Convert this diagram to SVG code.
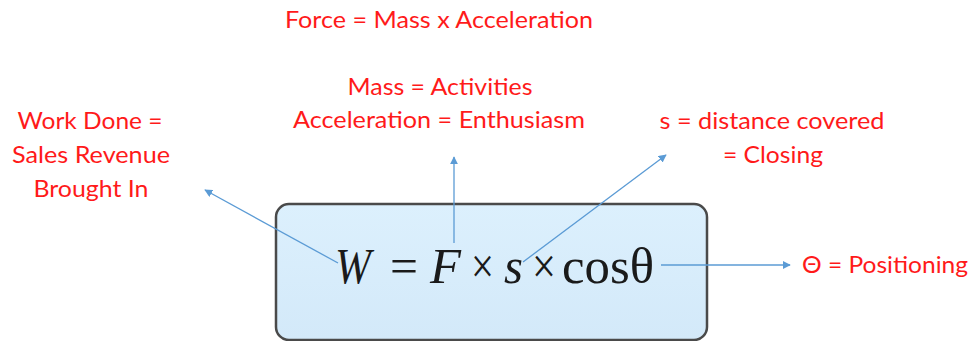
<svg xmlns="http://www.w3.org/2000/svg" width="972" height="341" viewBox="0 0 972 341">
<style>
.lbl{font-family:Lato,"Open Sans","Liberation Sans",sans-serif;font-size:24px;fill:#ff1a1a;text-anchor:middle}
.eq{font-family:"Liberation Serif","DejaVu Serif",serif;font-size:50px;fill:#1a1a1a}
.it{font-style:italic}
.conn{stroke:#5b9bd5;stroke-width:1.3;fill:none;marker-end:url(#ah)}
</style>
<defs>
<marker id="ah" viewBox="0 0 10 10" refX="9" refY="5" markerWidth="8" markerHeight="8" markerUnits="userSpaceOnUse" orient="auto">
<path d="M0,0 L10,5 L0,10 z" fill="#5b9bd5"/>
</marker>
<linearGradient id="bg" x1="0" y1="0" x2="0" y2="1">
<stop offset="0" stop-color="#dcf0fd"/>
<stop offset="1" stop-color="#d3e9f9"/>
</linearGradient>
</defs>
<rect width="972" height="341" fill="#ffffff"/>
<g id="formula">
<rect x="276" y="204" width="431" height="136" rx="13" ry="13" fill="url(#bg)" stroke="#4a4a4a" stroke-width="2.5"/>
<text class="eq it" x="335" y="283" textLength="36" lengthAdjust="spacingAndGlyphs">W</text>
<text class="eq" x="390" y="283" textLength="28" lengthAdjust="spacingAndGlyphs">=</text>
<text class="eq it" x="430" y="283" textLength="31" lengthAdjust="spacingAndGlyphs">F</text>
<text class="eq" x="471" y="283" textLength="23" lengthAdjust="spacingAndGlyphs">×</text>
<text class="eq it" x="504" y="283" textLength="19" lengthAdjust="spacingAndGlyphs">s</text>
<text class="eq" x="532" y="283" textLength="24" lengthAdjust="spacingAndGlyphs">×</text>
<text class="eq" x="562" y="283" textLength="92" lengthAdjust="spacingAndGlyphs">cosθ</text>
</g>
<g id="force">
<text class="lbl" x="439" y="28" textLength="308" lengthAdjust="spacingAndGlyphs">Force = Mass x Acceleration</text>
</g>
<g id="mass">
<text class="lbl" x="440" y="95" textLength="185" lengthAdjust="spacingAndGlyphs">Mass = Activities</text>
<text class="lbl" x="439" y="128" textLength="292" lengthAdjust="spacingAndGlyphs">Acceleration = Enthusiasm</text>
</g>
<g id="work">
<text class="lbl" x="90" y="129" textLength="145" lengthAdjust="spacingAndGlyphs">Work Done =</text>
<text class="lbl" x="91" y="163" textLength="158" lengthAdjust="spacingAndGlyphs">Sales Revenue</text>
<text class="lbl" x="91" y="197" textLength="115" lengthAdjust="spacingAndGlyphs">Brought In</text>
</g>
<g id="distance">
<text class="lbl" x="772" y="129" textLength="225" lengthAdjust="spacingAndGlyphs">s = distance covered</text>
<text class="lbl" x="773" y="163" textLength="100" lengthAdjust="spacingAndGlyphs">= Closing</text>
</g>
<g id="positioning">
<text class="lbl" x="885" y="273" textLength="166" lengthAdjust="spacingAndGlyphs">Θ = Positioning</text>
</g>
<g id="connectors">
<line class="conn" x1="338" y1="263" x2="205" y2="190"/>
<line class="conn" x1="454" y1="243" x2="454" y2="157"/>
<line class="conn" x1="523" y1="262" x2="666" y2="155"/>
<line class="conn" x1="661" y1="265" x2="790" y2="265"/>
</g>
</svg>
